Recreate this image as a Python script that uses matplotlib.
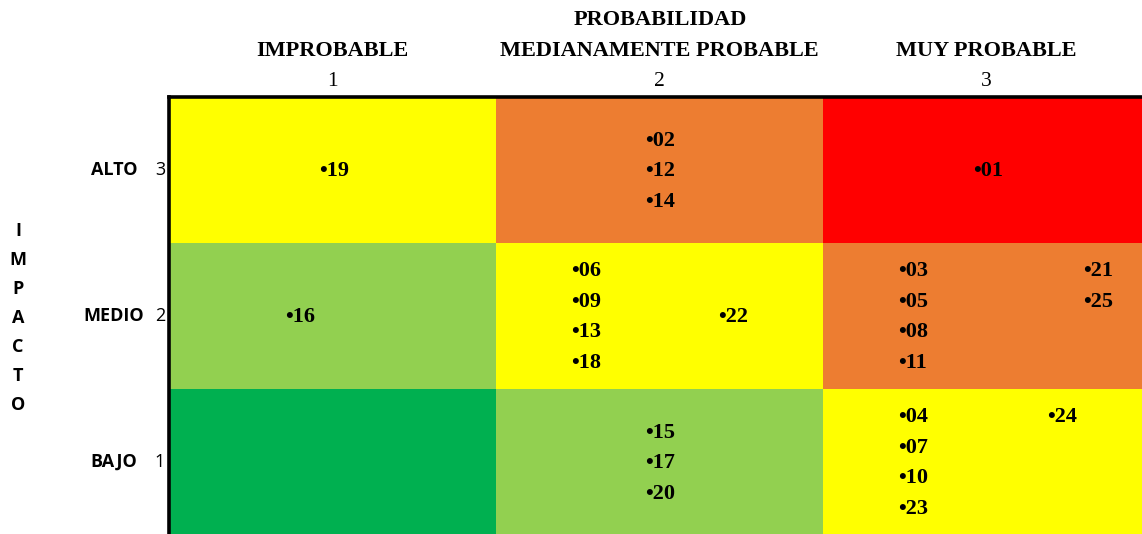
import matplotlib
matplotlib.use("Agg")
import matplotlib.pyplot as plt
from matplotlib.patches import Rectangle

# ---- data ----
prob_labels = ["IMPROBABLE", "MEDIANAMENTE PROBABLE", "MUY PROBABLE"]
prob_values = [1, 2, 3]
impact_labels = ["BAJO", "MEDIO", "ALTO"]
impact_values = [1, 2, 3]
axis_x_title = "PROBABILIDAD"
axis_y_title = "IMPACTO"

# colour of each cell: rows = impact 1..3, cols = probability 1..3
cell_colors = [
    ["#00B050", "#92D050", "#FFFF00"],   # BAJO
    ["#92D050", "#FFFF00", "#ED7D31"],   # MEDIO
    ["#FFFF00", "#ED7D31", "#FF0000"],   # ALTO
]

# risks listed per (probability, impact) cell, split into columns of text
cell_risks = {
    (1, 3): [["19"]],
    (2, 3): [["02", "12", "14"]],
    (3, 3): [["01"]],
    (1, 2): [["16"]],
    (2, 2): [["06", "09", "13", "18"], ["22"]],
    (3, 2): [["03", "05", "08", "11"], ["21", "25"]],
    (2, 1): [["15", "17", "20"]],
    (3, 1): [["04", "07", "10", "23"], ["24"]],
}

# ---- layout (offsets from cell centre, in data units) ----
group_anchor = {
    (1, 3): [(-0.04, 0.0)],
    (2, 3): [(-0.045, 0.21)],
    (3, 3): [(-0.04, 0.0)],
    (1, 2): [(-0.145, 0.0)],
    (2, 2): [(-0.27, 0.315), (0.18, 0.0)],
    (3, 2): [(-0.27, 0.315), (0.295, 0.315)],
    (2, 1): [(-0.045, 0.21)],
    (3, 1): [(-0.27, 0.315), (0.185, 0.315)],
}
line_step = 0.209

W, H = 1142, 534
fig = plt.figure(figsize=(W / 100, H / 100), dpi=100)
ax_left, ax_top = 169, 97
cell_w, cell_h = 327, 146
ax = fig.add_axes([ax_left / W, (H - ax_top - 3 * cell_h) / H,
                   3 * cell_w / W, 3 * cell_h / H])
ax.set_xlim(0.5, 3.5)
ax.set_ylim(0.5, 3.5)

for i, imp in enumerate(impact_values):
    for j, pr in enumerate(prob_values):
        ax.add_patch(Rectangle((pr - 0.5, imp - 0.5), 1, 1,
                               facecolor=cell_colors[i][j], edgecolor="none"))

serif = "Liberation Serif"
for (pr, imp), groups in cell_risks.items():
    for g, ids in enumerate(groups):
        dx, dy = group_anchor[(pr, imp)][g]
        for k, rid in enumerate(ids):
            ax.text(pr + dx, imp + dy - k * line_step - 0.008, "\u2022" + rid,
                    ha="left", va="center", fontsize=16, fontweight="bold",
                    family=serif, color="black")

ax.set_xticks([]); ax.set_yticks([])
for s in ["right", "bottom"]:
    ax.spines[s].set_visible(False)
for s in ["left", "top"]:
    ax.spines[s].set_linewidth(2.6)
    ax.spines[s].set_color("black")

def fx(px):
    return px / W
def fy(py):
    return 1 - py / H

# column headers
fig.text(fx(660), fy(20), axis_x_title, ha="center", va="center",
         fontsize=16, fontweight="bold", family=serif)
for j, (lab, v) in enumerate(zip(prob_labels, prob_values)):
    cx = ax_left + (j + 0.5) * cell_w
    fig.text(fx(cx), fy(51), lab, ha="center", va="center",
             fontsize=16, fontweight="bold", family=serif)
    fig.text(fx(cx), fy(82), str(v), ha="center", va="center",
             fontsize=15.5, family=serif)

# row labels
sans = "Open Sans"
for lab, v in zip(impact_labels, impact_values):
    cy = ax_top + (3.5 - v) * cell_h
    fig.text(fx(114), fy(cy), lab, ha="center", va="center",
             fontsize=13, fontweight="bold", family=sans)
    fig.text(fx(165), fy(cy), str(v), ha="right", va="center",
             fontsize=13, family=sans)

for k, ch in enumerate(axis_y_title):
    fig.text(fx(18), fy(231 + k * 29), ch, ha="center", va="center",
             fontsize=13, fontweight="bold", family=sans)

fig.savefig("out.png", dpi=100)
